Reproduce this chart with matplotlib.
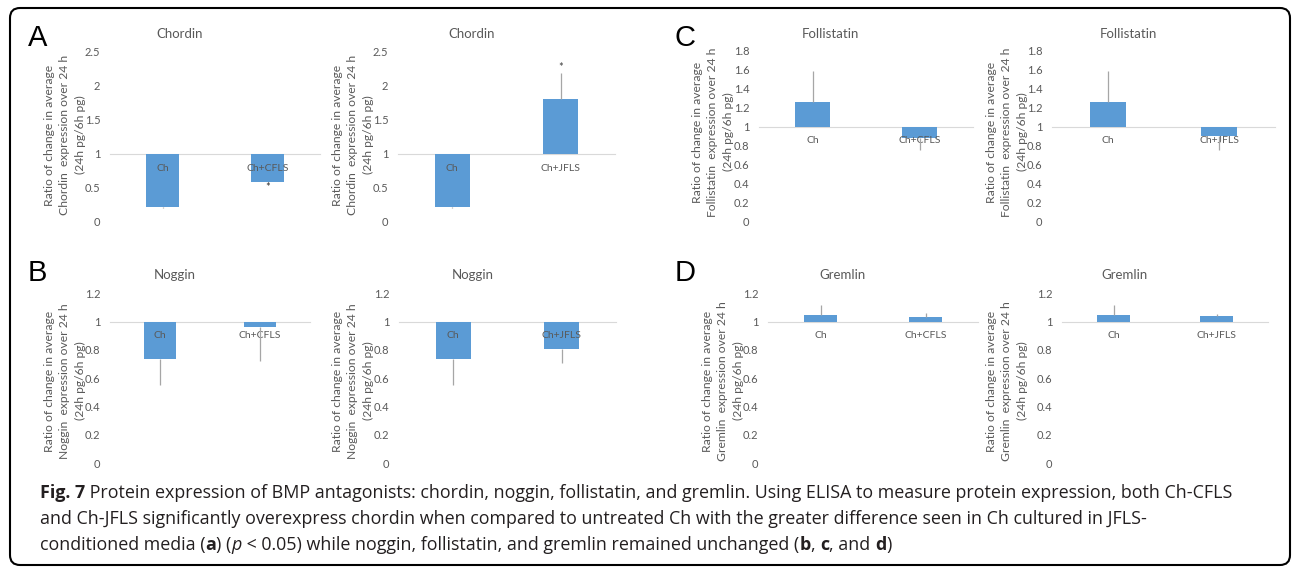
import numpy as np
import matplotlib
matplotlib.use("Agg")
import matplotlib.pyplot as plt
from matplotlib.patches import FancyBboxPatch

W, H = 1292, 567
BLUE = '#5b9bd5'
GRAY = '#595959'
ERR = '#a6a6a6'
chart_font = 'Lato'
cap_font = 'Open Sans'

# data: ratio 24h/6h, bars drawn from baseline 1
cats_cfls = ['Ch', 'Ch+CFLS']
cats_jfls = ['Ch', 'Ch+JFLS']

chordin_cfls = [0.22, 0.59]
chordin_cfls_err = [0.02, 0.03]
chordin_jfls = [0.22, 1.81]
chordin_jfls_err = [0.02, 0.38]

noggin_cfls = [0.735, 0.96]
noggin_cfls_err = [0.18, 0.24]
noggin_jfls = [0.735, 0.805]
noggin_jfls_err = [0.18, 0.10]

foll_cfls = [1.265, 0.878]
foll_cfls_err = [0.32, 0.12]
foll_jfls = [1.265, 0.90]
foll_jfls_err = [0.32, 0.15]

grem_cfls = [1.05, 1.033]
grem_cfls_err = [0.065, 0.025]
grem_jfls = [1.05, 1.04]
grem_jfls_err = [0.065, 0.012]

chordin_ticks = [0, 0.5, 1, 1.5, 2, 2.5]
foll_ticks = [0, 0.2, 0.4, 0.6, 0.8, 1, 1.2, 1.4, 1.6, 1.8]
small_ticks = [0, 0.2, 0.4, 0.6, 0.8, 1, 1.2]

fig = plt.figure(figsize=(W / 100, H / 100), dpi=100)


def px_axes(x0, x1, ytop, ybot):
    return fig.add_axes([x0 / W, 1 - ybot / H, (x1 - x0) / W, (ybot - ytop) / H])


def ftext(x, y, s, **kw):
    return fig.text(x / W, 1 - y / H, s, **kw)


def panel(box, cats, vals, errs, ticks, title, tpos, protein, lpos, star=None):
    ax = px_axes(*box)
    # category axis crosses at 1, like the original spreadsheet chart
    for s in ['top', 'right', 'left']:
        ax.spines[s].set_visible(False)
    ax.spines['bottom'].set_position(('data', 1))
    ax.spines['bottom'].set_color('#d9d9d9')
    ax.spines['bottom'].set_zorder(1)
    ax.set_axisbelow(False)

    x = np.arange(len(cats))
    heights = [v - 1 for v in vals]
    ax.bar(x, heights, bottom=1, width=0.32, color=BLUE, zorder=2)
    lo = [e if v < 1 else 0 for v, e in zip(vals, errs)]
    hi = [e if v >= 1 else 0 for v, e in zip(vals, errs)]
    ax.errorbar(x, vals, yerr=[lo, hi], fmt='none', ecolor=ERR, elinewidth=0.9,
                capsize=0, zorder=3)
    if star is not None:
        ax.text(star[0], star[1], '*', ha='center', va='center', fontsize=8,
                color='#404040', family=chart_font)
    ax.set_xlim(-0.5, len(cats) - 0.5)
    ax.set_ylim(ticks[0], ticks[-1])
    ax.set_yticks(ticks)
    ax.set_yticklabels([('%g' % t) for t in ticks], fontsize=8, color=GRAY,
                       family=chart_font)
    ax.set_xticks(x)
    ax.set_xticklabels(cats, fontsize=7.5, color=GRAY, family=chart_font)
    ax.tick_params(axis='y', length=0, pad=7)
    ax.tick_params(axis='x', length=0, pad=7)
    ax.patch.set_alpha(0)
    ftext(tpos[0], tpos[1], title, ha='center', va='center', fontsize=9.5,
          color=GRAY, family=chart_font)
    ylab = 'Ratio of change in average\n%s  expression over 24 h\n(24h pg/6h pg)' % protein
    ftext(lpos[0], lpos[1], ylab, ha='center', va='center', rotation=90,
          fontsize=8.7, color=GRAY, family=chart_font, linespacing=1.5)
    return ax


panel((110, 320, 52, 222), cats_cfls, chordin_cfls, chordin_cfls_err, chordin_ticks,
      'Chordin', (180, 34), 'Chordin', (65, 135), star=(1, 0.5))
panel((398, 615, 52, 222), cats_jfls, chordin_jfls, chordin_jfls_err, chordin_ticks,
      'Chordin', (472, 34), 'Chordin', (353, 135), star=(1, 2.27))
panel((759, 973, 50.7, 221.7), cats_cfls, foll_cfls, foll_cfls_err, foll_ticks,
      'Follistatin', (830, 34), 'Follistatin', (713, 132))
panel((1052, 1275, 50.7, 221.7), cats_jfls, foll_jfls, foll_jfls_err, foll_ticks,
      'Follistatin', (1128, 34), 'Follistatin', (1007, 132))
panel((110, 310, 293.3, 463.3), cats_cfls, noggin_cfls, noggin_cfls_err, small_ticks,
      'Noggin', (175, 275), 'Noggin', (65, 381))
panel((399, 616, 293.3, 463.3), cats_jfls, noggin_jfls, noggin_jfls_err, small_ticks,
      'Noggin', (473, 275), 'Noggin', (353, 381))
panel((768, 978, 293.3, 463.3), cats_cfls, grem_cfls, grem_cfls_err, small_ticks,
      'Gremlin', (843, 275), 'Gremlin', (723, 381))
panel((1062, 1268, 293.3, 463.3), cats_jfls, grem_jfls, grem_jfls_err, small_ticks,
      'Gremlin', (1125, 275), 'Gremlin', (1007, 381))

# panel letters
for letter, (lx, ly) in {'A': (28, 38), 'C': (675, 38), 'B': (28, 273), 'D': (675, 273)}.items():
    ftext(lx, ly, letter, ha='left', va='center', fontsize=21, color='black',
          family='Liberation Sans')

# rounded frame
fig.add_artist(FancyBboxPatch((10, 2), 1280, 557, boxstyle='round,pad=0,rounding_size=10',
                              transform=None, fill=False, ec='black', lw=1.5))

# caption
renderer = fig.canvas.get_renderer()
lines = [
    [('Fig. 7', 'bold', 'normal'),
     (' Protein expression of BMP antagonists: chordin, noggin, follistatin, and gremlin. '
      'Using ELISA to measure protein expression, both Ch-CFLS', 'normal', 'normal')],
    [('and Ch-JFLS significantly overexpress chordin when compared to untreated Ch with the '
      'greater difference seen in Ch cultured in JFLS-', 'normal', 'normal')],
    [('conditioned media (', 'normal', 'normal'), ('a', 'bold', 'normal'),
     (') (', 'normal', 'normal'), ('p', 'normal', 'italic'),
     (' < 0.05) while noggin, follistatin, and gremlin remained unchanged (', 'normal', 'normal'),
     ('b', 'bold', 'normal'), (', ', 'normal', 'normal'), ('c', 'bold', 'normal'),
     (', and ', 'normal', 'normal'), ('d', 'bold', 'normal'), (')', 'normal', 'normal')],
]


def line_width(runs, size):
    w = 0
    for s, wt, st in runs:
        t = fig.text(0, 0, s, fontsize=size, fontweight=wt, style=st, family=cap_font)
        w += t.get_window_extent(renderer).width
        t.remove()
    return w


cap_size = 10 * 1195 / line_width(lines[0], 10)
for runs, y in zip(lines, [493, 519, 545]):
    x = 40
    for s, wt, st in runs:
        t = ftext(x, y, s, fontsize=cap_size, fontweight=wt, style=st, family=cap_font,
                  va='center', ha='left', color='#231f20')
        x += t.get_window_extent(renderer).width

fig.savefig('out.png', dpi=100)
